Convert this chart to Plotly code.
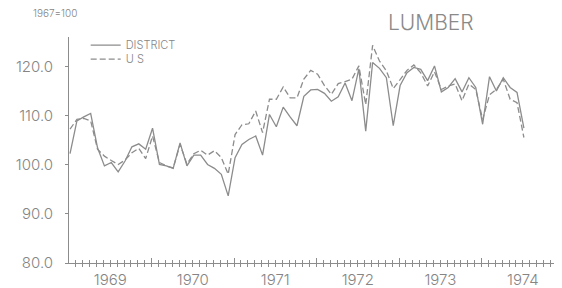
import plotly.graph_objects as go

# Monthly index values, 1967=100, Jan 1969 .. Jul 1974
district = [102.3, 109.0, 109.8, 110.5, 103.5, 99.8, 100.5, 98.6, 100.8, 103.7, 104.3, 103.2,
            107.5, 100.1, 99.8, 99.3, 104.5, 99.8, 102.0, 102.0, 100.1, 99.3, 98.1, 93.7,
            101.5, 104.2, 105.2, 105.9, 102.0, 110.3, 107.8, 111.8, 109.8, 108.0, 114.0, 115.3,
            115.4, 114.6, 113.0, 113.9, 116.7, 113.1, 119.6, 106.9, 120.9, 119.7, 117.8, 108.0,
            116.2, 118.8, 119.9, 119.5, 117.2, 120.2, 114.9, 115.8, 117.6, 114.9, 117.8, 115.8,
            108.3, 118.0, 115.1, 117.8, 115.8, 114.8, 107.5]
us = [107.3, 109.3, 109.5, 109.0, 103.2, 101.8, 100.9, 100.1, 101.0, 102.5, 103.4, 101.3,
      105.9, 100.5, 99.8, 99.4, 104.2, 100.2, 102.3, 103.0, 102.0, 102.9, 101.5, 98.1,
      106.2, 108.2, 108.4, 111.0, 106.6, 113.4, 113.4, 115.9, 113.7, 113.7, 117.5, 119.3,
      118.5, 116.2, 114.4, 116.6, 117.0, 117.5, 120.2, 112.3, 124.4, 121.2, 119.2, 115.6,
      117.4, 119.3, 120.4, 118.8, 116.1, 119.0, 115.4, 116.1, 116.5, 113.1, 116.5, 115.4,
      109.3, 114.3, 115.4, 117.5, 113.4, 112.7, 105.6]
first_year = 1969
year_labels = ["1969", "1970", "1971", "1972", "1973", "1974"]
y_ticks = [80, 90, 100, 110, 120]
y_tick_labels = ["80.0", "90.0", "100.0", "110.0", "120.0"]

n = len(district)
xpos = [first_year + i // 12 + ((i % 12) + 1 - 0.85) / 12 for i in range(n)]
label_pos = [int(y) + 0.5 for y in year_labels]
year_bounds = [int(y) for y in year_labels]
month_ticks = [first_year + k / 12 for k in range(1, 72)]

GRAY = "#8c8c8c"
TXT = "#858585"
FONT = "Inter"
XR = [1969, 1974.95]

fig = go.Figure()
fig.add_trace(go.Scatter(x=xpos, y=district, mode="lines", name="DISTRICT", showlegend=True,
                         line=dict(color=GRAY, width=1.3), legend="legend"))
fig.add_trace(go.Scatter(x=xpos, y=us, mode="lines", name="U S", xaxis="x2", showlegend=True,
                         line=dict(color=GRAY, width=1.3, dash="6px,3px"), legend="legend2"))

# page body has an 8px default margin, so the figure is 8px smaller on each axis
fig.update_layout(
    width=554, height=280,
    margin=dict(l=61, r=2, t=29, b=25),
    paper_bgcolor="white", plot_bgcolor="white",
    showlegend=True,
    font=dict(family=FONT, color=TXT, weight=300),
    xaxis=dict(range=XR, showline=True, linecolor=GRAY, linewidth=1, automargin=False,
               tickmode="array", tickvals=label_pos, ticktext=year_labels,
               ticks="outside", ticklen=0, tickcolor="rgba(0,0,0,0)",
               ticklabelstandoff=3,
               tickfont=dict(family=FONT, size=15, color=TXT, weight=300),
               minor=dict(tickmode="array", tickvals=month_ticks, ticks="outside",
                          ticklen=3, tickcolor=GRAY, tickwidth=1, showgrid=False),
               showgrid=False, zeroline=False),
    xaxis2=dict(range=XR, overlaying="x", anchor="y", side="bottom", automargin=False,
                tickmode="array", tickvals=year_bounds, ticks="inside", ticklen=5,
                tickcolor=GRAY, tickwidth=1, showticklabels=False,
                minor=dict(tickmode="array", tickvals=month_ticks, ticks="inside",
                           ticklen=3, tickcolor=GRAY, tickwidth=1, showgrid=False),
                showgrid=False, zeroline=False, showline=False),
    xaxis3=dict(range=XR, overlaying="x", anchor="y", side="bottom", automargin=False,
                tickmode="array", tickvals=year_bounds, ticks="outside", ticklen=5,
                tickcolor=GRAY, tickwidth=1, showticklabels=False,
                showgrid=False, zeroline=False, showline=False),
    yaxis=dict(range=[80, 126.1], tickmode="array", tickvals=y_ticks, ticktext=y_tick_labels,
               ticks="outside", ticklen=3, tickcolor=GRAY, showline=True, linecolor=GRAY,
               linewidth=1, ticklabelstandoff=9, automargin=False,
               tickfont=dict(family=FONT, size=15, color=TXT, weight=300),
               showgrid=False, zeroline=False),
    legend=dict(x=0.034, y=1.028, xanchor="left", yanchor="top", bgcolor="rgba(0,0,0,0)",
                font=dict(family=FONT, size=11, color=TXT, weight=300)),
    legend2=dict(x=0.034, y=0.966, xanchor="left", yanchor="top", bgcolor="rgba(0,0,0,0)",
                 font=dict(family=FONT, size=11, color=TXT, weight=300)),
    annotations=[
        dict(text="1967=100", xref="paper", yref="paper", x=-0.0285, y=1.106,
             xanchor="center", yanchor="middle", showarrow=False,
             font=dict(family=FONT, size=10, color=TXT, weight=300)),
        dict(text="LUMBER", xref="paper", yref="paper", x=0.737, y=1.062,
             xanchor="center", yanchor="middle", showarrow=False,
             font=dict(family=FONT, size=21, color="#8a8a8a", weight=300)),
    ],
)

fig.write_html("out.html")
